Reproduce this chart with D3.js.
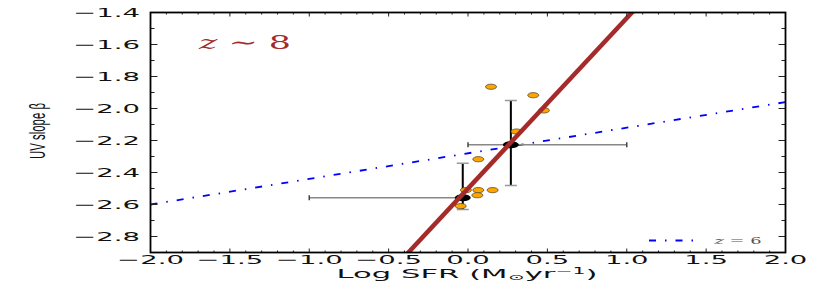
<!DOCTYPE html>
<html lang="en">
<head>
  <meta charset="UTF-8" />
  <title>UV slope vs Log SFR - z ~ 8</title>
  <script src="https://d3js.org/d3.v7.min.js"></script>
  <style>
    body { margin: 0; background: #fff; }
    svg { display: block; background: #fff; }
    .tick-label { font-family: "DejaVu Sans", sans-serif; font-size: 12.5px; fill: #111; }
    .axis-label { font-family: "DejaVu Sans", sans-serif; font-size: 12px; fill: #111; }
  </style>
</head>
<body>

<svg width="830" height="291"></svg>

<script>
  // x ticks (Log SFR) and y ticks (UV slope)
  const xTickValues = [-2.0, -1.5, -1.0, -0.5, 0.0, 0.5, 1.0, 1.5, 2.0];
  const yTickValues = [-2.8, -2.6, -2.4, -2.2, -2.0, -1.8, -1.6, -1.4];

  // individual galaxies (orange)
  const galSFR  = [0.145, 0.411, 0.478, 0.306, 0.065, -0.013, 0.065, 0.155, 0.059, -0.046];
  const galBeta = [-1.864, -1.917, -2.012, -2.144, -2.317, -2.510, -2.510, -2.510, -2.542, -2.610];

  // binned points (black) with asymmetric errors
  const binSFR     = [-0.033, 0.270];
  const binSFRLo   = [-1.00, 0.00];
  const binSFRHi   = [-0.033, 1.00];
  const binBeta    = [-2.558, -2.227];
  const binBetaLo  = [-2.631, -2.481];
  const binBetaHi  = [-2.342, -1.950];

  // linear relations: [intercept, slope]
  const fitZ8 = [-2.50, 1.065];
  const fitZ6 = [-2.28, 0.16];

  const svg = d3.select("svg");
  const x = d3.scaleLinear().domain([-2, 2]).range([150.5, 785.5]);
  const y = d3.scaleLinear().domain([-2.9, -1.4]).range([252.5, 12.5]);
  const sx = 2.2; // matplotlib output was stretched horizontally

  svg.append("defs").append("clipPath").attr("id", "plot")
     .append("rect")
     .attr("x", x(-2)).attr("y", y(-1.4))
     .attr("width", x(2) - x(-2)).attr("height", y(-2.9) - y(-1.4));

  const plot = svg.append("g").attr("clip-path", "url(#plot)");

  // ticks (inward) on all four sides
  const xMinor = d3.range(-20, 21).map(d => d / 10);
  const yMinor = d3.range(-29, -13).map(d => d / 10);
  const isMajorX = v => Math.abs(v * 2 - Math.round(v * 2)) < 1e-6;
  const isMajorY = v => Math.abs(v * 5 - Math.round(v * 5)) < 1e-6;

  const ticks = svg.append("g").attr("stroke", "#222").attr("stroke-width", 1);
  xMinor.forEach(v => {
    const len = isMajorX(v) ? 4 : 2;
    ticks.append("line").attr("x1", x(v)).attr("x2", x(v)).attr("y1", y(-2.9)).attr("y2", y(-2.9) - len);
    ticks.append("line").attr("x1", x(v)).attr("x2", x(v)).attr("y1", y(-1.4)).attr("y2", y(-1.4) + len);
  });
  yMinor.forEach(v => {
    const len = isMajorY(v) ? 7 : 4;
    ticks.append("line").attr("y1", y(v)).attr("y2", y(v)).attr("x1", x(-2)).attr("x2", x(-2) + len);
    ticks.append("line").attr("y1", y(v)).attr("y2", y(v)).attr("x1", x(2)).attr("x2", x(2) - len);
  });

  const fmt = v => (v < 0 ? "\u2212" : "") + Math.abs(v).toFixed(1);

  // tick labels
  xTickValues.forEach(v => {
    svg.append("text").attr("class", "tick-label")
       .attr("text-anchor", "middle")
       .attr("transform", `translate(${x(v)},264) scale(${sx},1)`)
       .text(fmt(v));
  });
  yTickValues.forEach(v => {
    svg.append("text").attr("class", "tick-label")
       .attr("text-anchor", "end")
       .attr("dominant-baseline", "central")
       .attr("transform", `translate(140,${y(v)}) scale(${sx},1)`)
       .text(fmt(v));
  });

  // z ~ 6 relation (blue dash-dot)
  plot.append("line")
      .attr("x1", x(-2)).attr("y1", y(fitZ6[0] + fitZ6[1] * -2))
      .attr("x2", x(2)).attr("y2", y(fitZ6[0] + fitZ6[1] * 2))
      .attr("stroke", "#0000ff").attr("stroke-width", 1.8)
      .attr("stroke-dasharray", "7,9,1.5,9");

  // error bars
  const eb = plot.append("g");
  binSFR.forEach((s, i) => {
    eb.append("line")
      .attr("x1", x(binSFRLo[i])).attr("x2", x(binSFRHi[i]))
      .attr("y1", y(binBeta[i])).attr("y2", y(binBeta[i]))
      .attr("stroke", "#888").attr("stroke-width", 1.5);
    [binSFRLo[i], binSFRHi[i]].forEach(e => {
      if (Math.abs(e - s) < 1e-6) return;
      eb.append("line")
        .attr("x1", x(e)).attr("x2", x(e))
        .attr("y1", y(binBeta[i]) - 2.5).attr("y2", y(binBeta[i]) + 2.5)
        .attr("stroke", "#444").attr("stroke-width", 1.5);
    });
    eb.append("line")
      .attr("x1", x(s)).attr("x2", x(s))
      .attr("y1", y(binBetaLo[i])).attr("y2", y(binBetaHi[i]))
      .attr("stroke", "#000").attr("stroke-width", 2);
    [binBetaLo[i], binBetaHi[i]].forEach(e => {
      eb.append("line")
        .attr("x1", x(s) - 6).attr("x2", x(s) + 6)
        .attr("y1", y(e)).attr("y2", y(e))
        .attr("stroke", "#999").attr("stroke-width", 1.5);
    });
  });

  // binned markers
  plot.selectAll(".bin")
      .data(binSFR)
      .enter().append("ellipse")
      .attr("cx", d => x(d))
      .attr("cy", (d, i) => y(binBeta[i]))
      .attr("rx", 8).attr("ry", 3.5)
      .attr("fill", "#000");

  // individual galaxies
  plot.selectAll(".gal")
      .data(galSFR)
      .enter().append("ellipse")
      .attr("cx", d => x(d))
      .attr("cy", (d, i) => y(galBeta[i]))
      .attr("rx", 5.5).attr("ry", 2.6)
      .attr("fill", "#ffa500")
      .attr("stroke", "#5a4a2a").attr("stroke-width", 0.8);

  // z ~ 8 fit (brown)
  plot.append("line")
      .attr("x1", x(-2)).attr("y1", y(fitZ8[0] + fitZ8[1] * -2))
      .attr("x2", x(2)).attr("y2", y(fitZ8[0] + fitZ8[1] * 2))
      .attr("stroke", "#a52a2a").attr("stroke-width", 4.5);

  // frame
  svg.append("rect")
     .attr("x", x(-2)).attr("y", y(-1.4))
     .attr("width", x(2) - x(-2)).attr("height", y(-2.9) - y(-1.4))
     .attr("fill", "none").attr("stroke", "#000").attr("stroke-width", 1.8);

  // stretch a text to a given width around its centre
  function fitText(sel, cx, cy, width) {
    const w = sel.node().getComputedTextLength();
    sel.attr("text-anchor", "middle")
       .attr("transform", `translate(${cx},${cy}) scale(${width / w},1)`);
  }

  // annotation
  const z8 = svg.append("text")
     .attr("font-family", "DejaVu Serif, serif")
     .attr("font-size", 19)
     .attr("fill", "#a52a2a")
     .attr("dominant-baseline", "central");
  z8.append("tspan").attr("font-style", "italic").text("z");
  z8.append("tspan").text(" \u223C 8");
  fitText(z8, 245, 42, 92);

  // legend
  svg.append("line")
     .attr("x1", 649).attr("x2", 697).attr("y1", 240.5).attr("y2", 240.5)
     .attr("stroke", "#0000ff").attr("stroke-width", 1.8)
     .attr("stroke-dasharray", "7,9,1.5,9");
  const lg = svg.append("text")
     .attr("font-family", "DejaVu Serif, serif")
     .attr("font-size", 10)
     .attr("fill", "#555")
     .attr("dominant-baseline", "central");
  lg.append("tspan").attr("font-style", "italic").text("z");
  lg.append("tspan").text(" = 6");
  fitText(lg, 738, 241, 47);

  // axis labels
  const xl = svg.append("text").attr("class", "axis-label");
  xl.append("tspan").text("Log SFR (M");
  xl.append("tspan").attr("font-size", 8).attr("dy", 2).text("\u2299");
  xl.append("tspan").attr("dy", -2).text("yr");
  xl.append("tspan").attr("font-size", 8).attr("dy", -4).text("\u22121");
  xl.append("tspan").attr("dy", 4).text(")");
  fitText(xl, 467, 278, 261);

  svg.append("text")
     .attr("font-family", "Liberation Sans, Arial, sans-serif")
     .attr("font-size", 12)
     .attr("fill", "#111")
     .attr("text-anchor", "middle")
     .attr("dominant-baseline", "central")
     .attr("transform", "translate(37,131) rotate(-90) scale(0.95,1.8)")
     .text("UV slope \u03B2");
</script>

</body>
</html>
